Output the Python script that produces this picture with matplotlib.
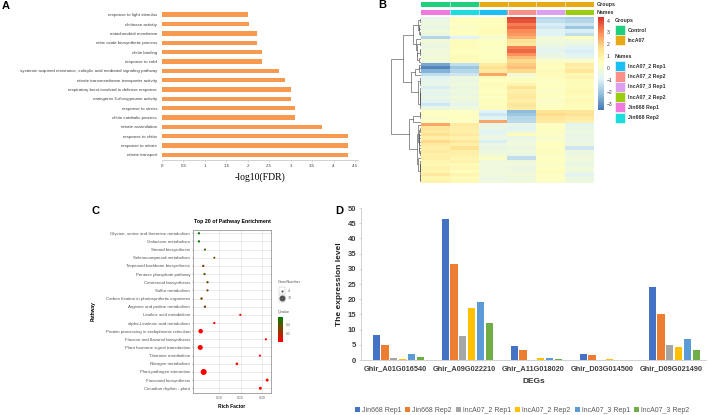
import numpy as np
import matplotlib
matplotlib.use("Agg")
import matplotlib.pyplot as plt
from matplotlib.colors import LinearSegmentedColormap, Normalize, to_rgba
from matplotlib.patches import Rectangle

plt.rcParams['font.family'] = ['Liberation Sans', 'DejaVu Sans']

W, H = 708, 415

# ---- panel A: GO enrichment (bottom to top)
go_terms = ["nitrate transport", "response to nitrate", "response to chitin",
            "nitrate assimilation", "chitin catabolic process", "response to stress",
            "naringenin 3-dioxygenase activity",
            "respiratory burst involved in defense response",
            "nitrate transmembrane transporter activity",
            "systemic acquired resistance, salicylic acid mediated signaling pathway",
            "response to cold", "chitin binding", "nitric oxide biosynthetic process",
            "mitochondrial membrane", "chitinase activity", "response to light stimulus"]
go_fdr = [4.33, 4.33, 4.33, 3.72, 3.1, 3.1, 3.0, 3.0, 2.86, 2.73,
          2.34, 2.34, 2.22, 2.22, 2.03, 2.01]

# ---- panel B: heatmap (rows top to bottom, 6 samples)
heat_cols = ["Jin668 Rep1", "Jin668 Rep2", "lncA07_2 Rep1", "lncA07_2 Rep2",
             "lncA07_3 Rep1", "lncA07_3 Rep2"]
heat_rows = [
    [-0.6, 0.3, 0.4, 4.0, -1.6, -1.8],
    [-0.4, 0.4, 0.5, 3.8, -1.4, -1.6],
    [-0.3, 0.3, 0.4, 3.2, -1.0, -1.2],
    [-0.5, 0.2, 0.5, 3.5, -1.2, -2.0],
    [-0.2, 0.4, 0.6, 3.0, -0.8, -1.0],
    [-0.4, 0.3, 0.5, 2.8, -0.9, -1.4],
    [-1.6, -0.9, 0.0, 2.4, -0.2, 0.4],
    [-0.2, 0.5, 0.3, 1.5, -0.2, -0.3],
    [-0.3, 0.6, 0.4, 1.4, -0.3, -0.5],
    [-0.4, 0.5, 0.2, 3.2, -0.6, -0.8],
    [-0.2, 0.4, 0.3, 3.5, -0.7, -1.0],
    [-0.3, 0.5, 0.4, 2.9, -0.5, -0.8],
    [-0.1, 0.6, 0.3, 2.2, -0.4, -0.6],
    [-0.2, 0.5, 0.4, 1.8, 0.2, 0.1],
    [-2.6, -1.4, 1.2, 2.0, 0.5, 1.3],
    [-3.2, -2.0, 1.6, 2.2, 0.4, 1.0],
    [-2.4, -1.6, 1.3, 1.8, 0.6, 1.4],
    [-1.4, -1.2, 2.6, -0.1, 0.6, 0.7],
    [-0.8, -0.3, 0.5, 0.2, 0.5, 0.8],
    [-0.6, -0.4, 0.4, 0.5, 0.3, 0.6],
    [-0.5, -0.2, 0.6, 0.8, 0.3, 0.5],
    [-1.0, -0.5, 0.5, 1.5, 0.4, 0.6],
    [-0.6, -0.3, 0.4, 1.0, 0.2, 0.7],
    [-0.7, -0.4, 0.5, 1.2, 0.4, 0.6],
    [-0.5, -0.2, 0.3, 1.3, 0.3, 0.5],
    [-0.8, -0.4, 0.5, 1.1, 0.2, 0.7],
    [-1.2, -0.6, 0.4, 1.4, 0.3, 0.6],
    [-0.5, -0.3, 0.5, 1.2, 0.4, 0.5],
    [0.4, 0.3, -0.9, -2.2, 1.5, 1.4],
    [0.3, 0.3, -1.2, -2.0, 1.8, 1.6],
    [0.2, 0.4, -0.8, -1.6, 1.4, 1.2],
    [0.3, 0.2, 2.6, -1.5, 1.2, 1.0],
    [2.6, 1.2, -0.6, -0.5, 0.3, -0.8],
    [1.4, 1.1, -0.5, -0.8, 0.4, -0.5],
    [1.2, 1.0, -0.8, -0.4, 0.2, -0.3],
    [1.6, 1.2, -0.6, 0.5, 0.3, -0.6],
    [1.1, 0.9, -0.4, -0.5, 0.1, -0.4],
    [1.8, 1.4, -1.0, -0.3, 0.2, -0.5],
    [1.3, 1.0, -0.4, -0.2, 0.4, -0.3],
    [1.0, 1.6, -0.5, -0.4, 0.3, -1.2],
    [1.2, 1.1, -0.3, -0.2, 0.5, -0.3],
    [0.9, 1.0, -0.2, -0.5, 0.2, -0.4],
    [1.1, 0.8, 0.2, -1.4, 0.3, -0.2],
    [0.8, 0.9, -0.3, -0.3, 0.4, -0.3],
    [0.7, 0.6, -0.2, -0.2, 0.2, -0.5],
    [0.9, 0.7, -0.3, -0.4, 0.3, -0.2],
    [0.8, 0.5, -0.2, -0.3, 0.5, -0.3],
    [1.3, 0.8, -0.3, -0.2, 0.2, -0.8],
    [0.8, 0.6, -0.4, -0.3, 0.3, -0.4],
    [0.9, 0.7, -0.2, -0.2, 0.2, -0.3],
]
col_group = [0, 0, 1, 1, 1, 1]
group_names = ["Control", "lncA07"]
group_colors = ["#1FD07E", "#E8AA14"]
col_colors = ["#F07ADD", "#1CDCDC", "#1CBFF2", "#F7918A", "#DDA0EE", "#9ACD12"]
name_legend = ["lncA07_2 Rep1", "lncA07_2 Rep2", "lncA07_3 Rep1", "lncA07_2 Rep2",
               "Jin668 Rep1", "Jin668 Rep2"]
name_legend_colors = ["#1CBFF2", "#F7918A", "#DDA0EE", "#9ACD12", "#F07ADD", "#1CDCDC"]

# ---- panel C: KEGG enrichment (top to bottom)
pathways = ["Glycine, serine and threonine metabolism", "Galactose metabolism",
            "Steroid biosynthesis", "Selenocompound metabolism",
            "Terpenoid backbone biosynthesis", "Pentose phosphate pathway",
            "Carotenoid biosynthesis", "Sulfur metabolism",
            "Carbon fixation in photosynthetic organisms", "Arginine and proline metabolism",
            "Linoleic acid metabolism", "alpha-Linolenic acid metabolism",
            "Protein processing in endoplasmic reticulum", "Flavone and flavonol biosynthesis",
            "Plant hormone signal transduction", "Thiamine metabolism",
            "Nitrogen metabolism", "Plant-pathogen interaction",
            "Flavonoid biosynthesis", "Circadian rhythm - plant"]
rich_factor = [0.052, 0.052, 0.066, 0.088, 0.062, 0.065, 0.072, 0.072, 0.058, 0.066,
               0.149, 0.088, 0.056, 0.209, 0.055, 0.195, 0.141, 0.063, 0.212, 0.196]
gene_number = [5, 5, 4, 3, 6, 5, 5, 4, 7, 6, 4, 5, 37, 4, 47, 4, 8, 70, 12, 13]
qvalue = [0.57, 0.56, 0.38, 0.33, 0.32, 0.33, 0.31, 0.31, 0.3, 0.3,
          0.03, 0.03, 0.02, 0.02, 0.01, 0.02, 0.02, 0.001, 0.01, 0.01]

# ---- panel D: expression of DEGs
genes = ["Ghir_A01G016540", "Ghir_A09G022210", "Ghir_A11G018020",
         "Ghir_D03G014500", "Ghir_D09G021490"]
samples = ["Jin668 Rep1", "Jin668 Rep2", "lncA07_2 Rep1", "lncA07_2 Rep2",
           "lncA07_3 Rep1", "lncA07_3 Rep2"]
jin668_rep1 = [8.1, 46.3, 4.6, 1.9, 24.1]
jin668_rep2 = [4.9, 31.5, 3.2, 1.5, 15.2]
lnc2_rep1 = [0.7, 7.8, 0.1, 0.15, 4.9]
lnc2_rep2 = [0.45, 17.1, 0.6, 0.4, 4.4]
lnc3_rep1 = [2.1, 19.2, 0.6, 0.05, 7.0]
lnc3_rep2 = [0.9, 12.3, 0.3, 0.05, 3.2]
bar_colors = ["#4472C4", "#ED7D31", "#A5A5A5", "#FFC000", "#5B9BD5", "#70AD47"]

fig = plt.figure(figsize=(W / 100, H / 100), dpi=100)


def px_axes(x0, y0, x1, y1):
    return fig.add_axes([x0 / W, 1 - y1 / H, (x1 - x0) / W, (y1 - y0) / H])


# ================= A
axA = px_axes(162, 10, 358, 160)
ya = np.arange(len(go_terms))
axA.barh(ya, go_fdr, height=0.47, color="#F79A4F")
axA.set_yticks(ya)
axA.set_yticklabels(go_terms, fontsize=3.2, color="#404040")
axA.set_ylim(-0.55, len(go_terms) - 0.5)
axA.set_xlim(0, 4.57)
xt = np.arange(0, 4.6, 0.5)
axA.set_xticks(xt)
axA.set_xticklabels([f"{v:g}" for v in xt], fontsize=3.2, color="#404040")
axA.tick_params(axis="y", length=0, pad=3.5)
axA.tick_params(axis="x", length=1.5, width=0.4, color="#BFBFBF", pad=1.5)
for s in ["left", "top", "right"]:
    axA.spines[s].set_visible(False)
axA.spines["bottom"].set_color("#BFBFBF")
axA.spines["bottom"].set_linewidth(0.5)
axA.set_xlabel("-log10(FDR)", family="Liberation Serif", fontsize=7, labelpad=3)

# ================= B
data = np.array(heat_rows)
nr = data.shape[0]
heat_cmap = LinearSegmentedColormap.from_list(
    "ph", ["#4575B4", "#91BFDB", "#E0F3F8", "#FFFFBF", "#FEE090", "#FC8D59", "#D73027"])

axH = px_axes(421, 17, 594, 183)
im = axH.imshow(data, cmap=heat_cmap, vmin=-3.5, vmax=4.3, aspect="auto",
                interpolation="nearest")
axH.set_xticks([])
axH.set_yticks([])
for s in axH.spines.values():
    s.set_visible(False)


def ordered_linkage(mat):
    # Ward-style merging of neighbouring rows, keeps the row order of the heatmap
    clusters = [[i] for i in range(len(mat))]
    pos = [float(i) for i in range(len(mat))]
    hts = [0.0] * len(mat)
    segs = []
    while len(clusters) > 1:
        best = None
        for k in range(len(clusters) - 1):
            a = mat[clusters[k]]
            b = mat[clusters[k + 1]]
            na, nb = len(a), len(b)
            d = np.sqrt(2 * na * nb / (na + nb)) * np.linalg.norm(a.mean(0) - b.mean(0))
            if best is None or d < best[0]:
                best = (d, k)
        d, k = best
        h = max(d, hts[k], hts[k + 1])
        segs.append(([hts[k], h, h, hts[k + 1]], [pos[k], pos[k], pos[k + 1], pos[k + 1]]))
        newpos = (pos[k] + pos[k + 1]) / 2
        clusters[k] = clusters[k] + clusters[k + 1]
        clusters.pop(k + 1)
        pos[k] = newpos
        pos.pop(k + 1)
        hts[k] = h
        hts.pop(k + 1)
    return segs, hts[0]


segs, top_h = ordered_linkage(data)
axD0 = px_axes(391, 17, 421, 183)
for xs, ys in segs:
    axD0.plot(xs, ys, color="#555555", lw=0.45)
axD0.set_xlim(top_h * 1.01, 0)
axD0.set_ylim(nr - 0.5, -0.5)
axD0.axis("off")

# annotation bars
axG = px_axes(421, 2, 594, 7.3)
axG.imshow(np.array([[to_rgba(group_colors[g]) for g in col_group]]), aspect="auto")
axN = px_axes(421, 9.7, 594, 15)
axN.imshow(np.array([[to_rgba(c) for c in col_colors]]), aspect="auto")
for a in (axG, axN):
    for k in range(1, len(heat_cols)):
        a.axvline(k - 0.5, color="white", lw=0.4)
    a.axis("off")

cax = px_axes(598, 17, 604, 110)
cb = fig.colorbar(im, cax=cax, ticks=range(-3, 5))
cb.outline.set_visible(False)
cb.ax.tick_params(labelsize=3.6, length=0, pad=2, labelcolor="#333333")

# ================= C
axC = px_axes(193, 230, 271, 393)
yc = np.arange(len(pathways))[::-1]
q_cmap = LinearSegmentedColormap.from_list("q", ["#FF0000", "#008000"])
qnorm = Normalize(vmin=0, vmax=0.58)


def dot_size(n):
    return 1.5 + 0.245 * np.asarray(n, dtype=float)


axC.set_axisbelow(True)
axC.grid(True, color="#E3E3E3", lw=0.5)
axC.scatter(rich_factor, yc, s=dot_size(gene_number), c=qvalue, cmap=q_cmap, norm=qnorm,
            linewidths=0)
axC.set_xlim(0.038, 0.221)
axC.set_ylim(-0.58, len(pathways) - 0.6)
axC.set_yticks(yc)
axC.set_yticklabels(pathways, fontsize=3.2, color="#555555")
axC.set_xticks([0.10, 0.15, 0.20])
axC.set_xticklabels(["0.10", "0.15", "0.20"], fontsize=2.6, color="#666666")
axC.tick_params(length=1, width=0.3, color="#888888", pad=1)
for s in axC.spines.values():
    s.set_color("#999999")
    s.set_linewidth(0.6)
axC.set_title("Top 20 of Pathway Enrichment", fontsize=3.8, fontweight="bold", pad=5)
axC.set_xlabel("Rich Factor", fontsize=3.5, fontweight="bold", labelpad=3)
axC.set_ylabel("Pathway", fontsize=3.5, fontweight="bold", labelpad=3)
axC.yaxis.set_label_coords(-1.25, 0.5)

qax = px_axes(277.5, 316.7, 283, 341.7)
sm = plt.cm.ScalarMappable(norm=qnorm, cmap=q_cmap)
qcb = fig.colorbar(sm, cax=qax, ticks=[0.2, 0.4])
qcb.outline.set_visible(False)
qcb.ax.tick_params(labelsize=2.4, length=1, width=0.3, color="white", pad=0.8,
                   labelcolor="#666666")

# ================= D
axE = px_axes(361, 208, 706, 360)
xd = np.arange(len(genes))
series = [jin668_rep1, jin668_rep2, lnc2_rep1, lnc2_rep2, lnc3_rep1, lnc3_rep2]
bw = 0.128
for k, (vals, lab, col) in enumerate(zip(series, samples, bar_colors)):
    axE.bar(xd + (k - 2.5) * bw + 0.04, vals, width=bw * 0.82, color=col, label=lab)
axE.set_xlim(-0.5, len(genes) - 0.5)
axE.set_ylim(0, 50)
axE.set_yticks(range(0, 51, 5))
axE.tick_params(axis="y", labelsize=5.5, length=1.5, width=0.4, color="#BFBFBF",
                labelcolor="#404040", pad=2)
for lab in axE.get_yticklabels():
    lab.set_fontweight("bold")
axE.set_xticks(xd)
axE.set_xticklabels(genes, fontsize=5.3, fontweight="bold", color="#404040")
axE.tick_params(axis="x", length=0, pad=4)
for s in ["top", "right"]:
    axE.spines[s].set_visible(False)
for s in ["left", "bottom"]:
    axE.spines[s].set_color("#BFBFBF")
    axE.spines[s].set_linewidth(0.5)
axE.set_ylabel("The expression level", fontsize=6, fontweight="bold", color="#222222",
               labelpad=3)
axE.set_xlabel("DEGs", fontsize=6, fontweight="bold", color="#333333", labelpad=4)
fig.legend(*axE.get_legend_handles_labels(), loc="center", ncol=6,
           bbox_to_anchor=(522 / W, 1 - 410 / H), fontsize=5, frameon=False,
           handlelength=0.7, handleheight=0.7, handletextpad=0.3, columnspacing=0.6,
           labelcolor="#595959")

# ================= overlay: panel letters and heatmap / bubble legends
ov = fig.add_axes([0, 0, 1, 1])
ov.set_xlim(0, W)
ov.set_ylim(H, 0)
ov.axis("off")
for letter, x, y in [("A", 2, 6), ("B", 378, 5.5), ("C", 91, 211), ("D", 335, 211)]:
    ov.text(x, y, letter, fontsize=8, fontweight="bold", va="center", ha="left")

ov.text(597, 4.7, "Groups", fontsize=3.8, fontweight="bold", va="center", color="#333333")
ov.text(597, 12.4, "Names", fontsize=3.8, fontweight="bold", va="center", color="#333333")
ov.text(615, 20.7, "Groups", fontsize=3.8, fontweight="bold", va="center", color="#333333")
for i, (nm, col) in enumerate(zip(group_names, group_colors)):
    y0 = 25 + 10 * i
    ov.add_patch(Rectangle((615, y0), 10, 10, facecolor=col, edgecolor="white", lw=0.4))
    ov.text(627.5, y0 + 5, nm, fontsize=3.8, fontweight="bold", va="center", color="#333333")
ov.text(615, 57, "Names", fontsize=3.8, fontweight="bold", va="center", color="#333333")
for i, (nm, col) in enumerate(zip(name_legend, name_legend_colors)):
    y0 = 61 + 10.3 * i
    ov.add_patch(Rectangle((615, y0), 10, 10.3, facecolor=col, edgecolor="white", lw=0.4))
    ov.text(627.5, y0 + 5.1, nm, fontsize=3.8, fontweight="bold", va="center",
            color="#333333")

# bubble size legend for C
ov.text(277.5, 281.5, "GeneNumber", fontsize=2.8, va="center", color="#555555")
for i, n in enumerate([4, 70]):
    y0 = 287 + 7.5 * i
    ov.add_patch(Rectangle((278.5, y0), 6.5, 7, facecolor="white", edgecolor="#BBBBBB",
                           lw=0.3))
    ov.scatter([281.75], [y0 + 3.5], s=dot_size(n), color="#555555", linewidths=0)
    ov.text(288, y0 + 3.5, str(n), fontsize=2.6, va="center", color="#666666")
ov.text(277.5, 311.5, "Qvalue", fontsize=2.8, va="center", color="#555555")

fig.savefig("out.png", dpi=100)
